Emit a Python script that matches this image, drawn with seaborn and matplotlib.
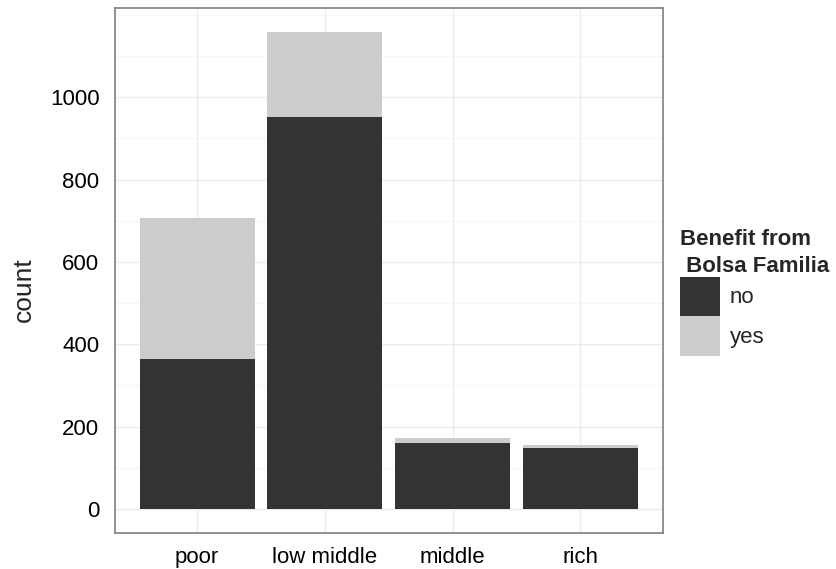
import matplotlib
matplotlib.use("Agg")
from matplotlib import pyplot as plt
from matplotlib.patches import Patch
from matplotlib.legend_handler import HandlerPatch
import numpy as np
import pandas as pd
import seaborn as sns

# counts
income_levels = ["poor", "low middle", "middle", "rich"]
count_no = [364, 951, 161, 149]
count_yes = [342, 208, 12, 7]
benefit_labels = ["no", "yes"]

col_no = "#333333"
col_yes = "#CCCCCC"

df = pd.DataFrame({
    "income": income_levels,
    "no": count_no,
    "yes": count_yes,
})
df["total"] = df["no"] + df["yes"]

sns.set_style("white")
plt.rcParams["font.family"] = ["Liberation Sans", "DejaVu Sans"]

fig = plt.figure(figsize=(8.36, 5.69), dpi=100)
ax = fig.add_axes([114.7 / 836, 1 - 532.7 / 569, 548 / 836, 524.7 / 569])

# stacked: draw the totals (yes on top) first, then the "no" part over it
sns.barplot(data=df, x="income", y="total", order=income_levels,
            color=col_yes, saturation=1, width=0.9, edgecolor="none",
            linewidth=0, ax=ax, zorder=3)
sns.barplot(data=df, x="income", y="no", order=income_levels,
            color=col_no, saturation=1, width=0.9, edgecolor="none",
            linewidth=0, ax=ax, zorder=4)

ax.set_xlim(-0.645, 3.645)
ax.set_ylim(-58, 1217)
ax.set_yticks([0, 200, 400, 600, 800, 1000])
ax.set_yticks([100, 300, 500, 700, 900, 1100, 1200], minor=True)
ax.set_xticks(range(len(income_levels)))
ax.set_xticklabels(income_levels)

ax.grid(which="major", color="#EBEBEB", linewidth=1.0, zorder=0)
ax.grid(which="minor", axis="y", color="#F6F6F6", linewidth=1.0, zorder=0)
ax.set_axisbelow(True)

for s in ax.spines.values():
    s.set_visible(True)
    s.set_color("#7F7F7F")
    s.set_linewidth(1.2)

ax.tick_params(which="major", length=7, width=0.9, color="#555555",
               labelsize=16, labelcolor="black", pad=3.5)
ax.tick_params(which="minor", length=0)
ax.tick_params(axis="y", pad=4)
ax.set_xlabel("")
ax.set_ylabel("")
fig.text(24 / 836, 1 - 290 / 569, "count", rotation=90, ha="center",
         va="center", fontsize=19)

handles = [Patch(facecolor=col_no, edgecolor="none"),
           Patch(facecolor=col_yes, edgecolor="none")]
leg = fig.legend(handles, benefit_labels, title="Benefit from\n Bolsa Familia",
                 loc="upper left", bbox_to_anchor=(680 / 836, 1 - 229 / 569),
                 frameon=False, fontsize=16, handlelength=1.79,
                 handleheight=2.36, labelspacing=0, handletextpad=0.45,
                 borderpad=0, borderaxespad=0, alignment="left",
                 handler_map={Patch: HandlerPatch(ypad=0)},
                 title_fontproperties={"weight": "bold", "size": 16})
leg.get_title().set_linespacing(1.35)

fig.savefig("out.png", dpi=100)
